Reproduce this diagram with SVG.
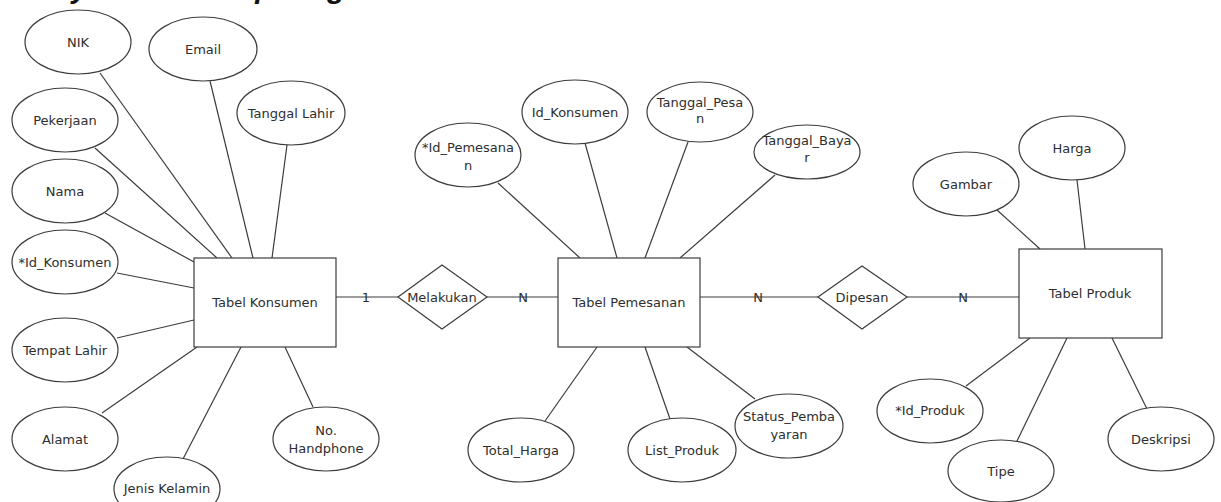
<svg xmlns="http://www.w3.org/2000/svg" width="1221" height="502" viewBox="0 0 1221 502">
<style>
.bg{fill:#ffffff}
.e{fill:#ffffff;stroke:#3c3c3c;stroke-width:1.2}
.r{fill:#ffffff;stroke:#3c3c3c;stroke-width:1.2}
.c line{stroke:#3c3c3c;stroke-width:1.2}
.t{font-family:"DejaVu Sans","Liberation Sans",sans-serif;font-size:13px;fill:#2e2e2e;text-anchor:middle}
.ttl{font-family:"Liberation Sans",Arial,sans-serif;font-size:29.5px;font-weight:bold;font-style:italic;fill:#111}
</style>
<rect class="bg" x="0" y="0" width="1221" height="502"/>
<text class="ttl" x="6" y="-2">Entity Relationship Diagram</text>
<g id="connectors" class="c">
<line x1="100" y1="73" x2="232" y2="258"/>
<line x1="210" y1="81" x2="253" y2="258"/>
<line x1="287" y1="145" x2="272" y2="258"/>
<line x1="95" y1="148" x2="217" y2="258"/>
<line x1="105" y1="213" x2="194" y2="262"/>
<line x1="117" y1="273" x2="194" y2="288"/>
<line x1="117" y1="338" x2="194" y2="320"/>
<line x1="102" y1="413" x2="197" y2="347"/>
<line x1="183" y1="459" x2="241" y2="347"/>
<line x1="313" y1="407" x2="285" y2="347"/>
<line x1="336" y1="297" x2="398" y2="297"/>
<line x1="487" y1="297" x2="558" y2="297"/>
<line x1="700" y1="297" x2="818" y2="297"/>
<line x1="907" y1="297" x2="1019" y2="297"/>
<line x1="498" y1="183" x2="580" y2="258"/>
<line x1="585" y1="143" x2="617" y2="258"/>
<line x1="688" y1="142" x2="645" y2="258"/>
<line x1="775" y1="175" x2="680" y2="258"/>
<line x1="545" y1="421" x2="597" y2="347"/>
<line x1="670" y1="419" x2="645" y2="347"/>
<line x1="755" y1="399" x2="687" y2="347"/>
<line x1="1077" y1="180" x2="1085" y2="249"/>
<line x1="997" y1="210" x2="1040" y2="249"/>
<line x1="966" y1="386" x2="1030" y2="338"/>
<line x1="1017" y1="441" x2="1067" y2="338"/>
<line x1="1147" y1="409" x2="1112" y2="338"/>
<text class="t" x="366" y="302">1</text>
<text class="t" x="523" y="302">N</text>
<text class="t" x="758" y="302">N</text>
<text class="t" x="963" y="302">N</text>
</g>
<g id="tabel-konsumen"><rect class="r" x="194" y="258" width="142" height="89"/><text class="t" x="265" y="307">Tabel Konsumen</text></g>
<g id="nik"><ellipse class="e" cx="78" cy="42" rx="53" ry="32"/><text class="t" x="78" y="47">NIK</text></g>
<g id="email"><ellipse class="e" cx="203" cy="49" rx="54" ry="32"/><text class="t" x="203" y="54">Email</text></g>
<g id="tanggal-lahir"><ellipse class="e" cx="291" cy="113" rx="54" ry="32"/><text class="t" x="291" y="118">Tanggal Lahir</text></g>
<g id="pekerjaan"><ellipse class="e" cx="65" cy="120" rx="53" ry="32"/><text class="t" x="65" y="125">Pekerjaan</text></g>
<g id="nama"><ellipse class="e" cx="65" cy="191" rx="53" ry="32"/><text class="t" x="65" y="196">Nama</text></g>
<g id="id-konsumen-pk"><ellipse class="e" cx="65" cy="262" rx="53" ry="32"/><text class="t" x="65" y="267">*Id_Konsumen</text></g>
<g id="tempat-lahir"><ellipse class="e" cx="65" cy="350" rx="53" ry="32"/><text class="t" x="65" y="355">Tempat Lahir</text></g>
<g id="alamat"><ellipse class="e" cx="65" cy="439" rx="53" ry="32"/><text class="t" x="65" y="444">Alamat</text></g>
<g id="jenis-kelamin"><ellipse class="e" cx="167" cy="489" rx="53" ry="32"/><text class="t" x="167" y="493">Jenis Kelamin</text></g>
<g id="no-handphone"><ellipse class="e" cx="326" cy="439" rx="53" ry="32"/><text class="t" x="326" y="435">No.</text><text class="t" x="326" y="453">Handphone</text></g>
<g id="melakukan"><polygon class="r" points="398,297 442,265 487,297 442,329"/><text class="t" x="442" y="302">Melakukan</text></g>
<g id="tabel-pemesanan"><rect class="r" x="558" y="258" width="142" height="89"/><text class="t" x="629" y="307">Tabel Pemesanan</text></g>
<g id="id-pemesanan-pk"><ellipse class="e" cx="468" cy="155" rx="53" ry="32"/><text class="t" x="468" y="152">*Id_Pemesana</text><text class="t" x="468" y="170">n</text></g>
<g id="id-konsumen"><ellipse class="e" cx="575" cy="112" rx="53" ry="32"/><text class="t" x="575" y="117">Id_Konsumen</text></g>
<g id="tanggal-pesan"><ellipse class="e" cx="700" cy="112" rx="53" ry="30"/><text class="t" x="700" y="107">Tanggal_Pesa</text><text class="t" x="700" y="123">n</text></g>
<g id="tanggal-bayar"><ellipse class="e" cx="807" cy="152" rx="53" ry="27"/><text class="t" x="807" y="145">Tanggal_Baya</text><text class="t" x="807" y="162">r</text></g>
<g id="total-harga"><ellipse class="e" cx="521" cy="450" rx="53" ry="32"/><text class="t" x="521" y="455">Total_Harga</text></g>
<g id="list-produk"><ellipse class="e" cx="682" cy="450" rx="54" ry="32"/><text class="t" x="682" y="455">List_Produk</text></g>
<g id="status-pembayaran"><ellipse class="e" cx="789" cy="426" rx="54" ry="32"/><text class="t" x="789" y="421">Status_Pemba</text><text class="t" x="789" y="439">yaran</text></g>
<g id="dipesan"><polygon class="r" points="818,297 862,266 907,297 862,329"/><text class="t" x="862" y="302">Dipesan</text></g>
<g id="tabel-produk"><rect class="r" x="1019" y="249" width="143" height="89"/><text class="t" x="1090" y="298">Tabel Produk</text></g>
<g id="harga"><ellipse class="e" cx="1072" cy="148" rx="53" ry="32"/><text class="t" x="1072" y="153">Harga</text></g>
<g id="gambar"><ellipse class="e" cx="966" cy="184" rx="53" ry="32"/><text class="t" x="966" y="189">Gambar</text></g>
<g id="id-produk-pk"><ellipse class="e" cx="930" cy="411" rx="53" ry="32"/><text class="t" x="930" y="415">*Id_Produk</text></g>
<g id="tipe"><ellipse class="e" cx="1001" cy="471" rx="53" ry="31"/><text class="t" x="1001" y="476">Tipe</text></g>
<g id="deskripsi"><ellipse class="e" cx="1161" cy="439" rx="53" ry="32"/><text class="t" x="1161" y="444">Deskripsi</text></g>
</svg>
